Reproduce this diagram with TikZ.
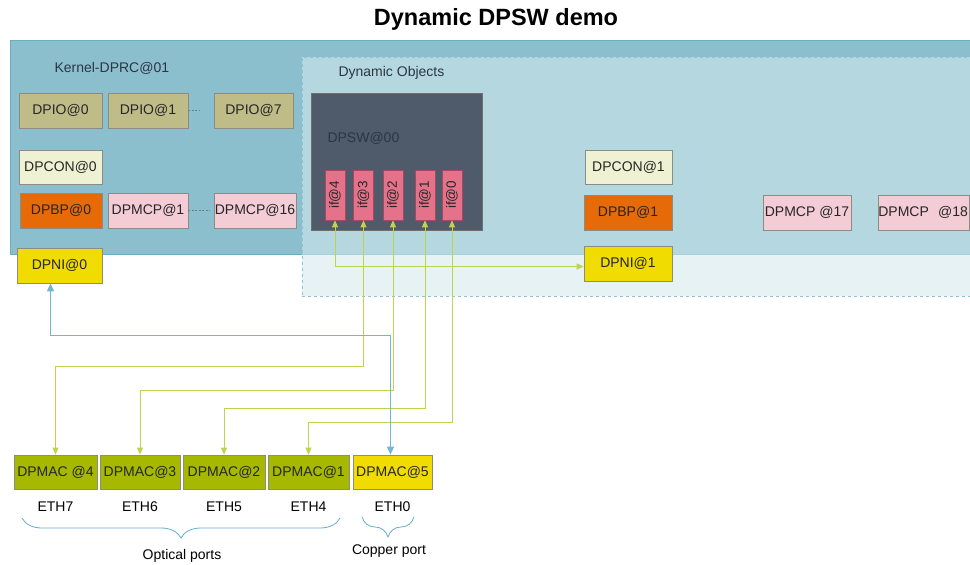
\documentclass[tikz,border=0pt]{standalone}
\usepackage{fontspec}
\setmainfont{Liberation Sans}
\usepackage{tikz}
\usetikzlibrary{arrows.meta,positioning,calc,decorations.pathreplacing}
\usepackage{xcolor}
\definecolor{KernelBlue}{HTML}{8BBFCE}
\definecolor{KernelEdge}{HTML}{6AAEC2}
\definecolor{DynTint}{RGB}{212,233,236}
\definecolor{DynEdge}{HTML}{8EC3D3}
\definecolor{IoOlive}{HTML}{C0BC88}
\definecolor{ConCream}{HTML}{EEF2D2}
\definecolor{BpOrange}{HTML}{E66A08}
\definecolor{McpPink}{HTML}{F3CCD6}
\definecolor{NiYellow}{HTML}{F0DC00}
\definecolor{SwSlate}{HTML}{4F5B6B}
\definecolor{SwText}{HTML}{2C3643}
\definecolor{PortPink}{HTML}{E5728B}
\definecolor{PortEdge}{HTML}{A8475E}
\definecolor{MacGreen}{HTML}{A6B800}
\definecolor{BoxEdge}{HTML}{8C8C84}
\definecolor{WireGreen}{HTML}{BFD34E}
\definecolor{WireBlue}{HTML}{72B7D0}
\definecolor{BraceBlue}{HTML}{62AECB}
\definecolor{DotGray}{HTML}{6F8088}
\definecolor{InkDark}{HTML}{262626}

\begin{document}
\begin{tikzpicture}[x=1pt,y=-1pt,
  txt/.style={font=\fontsize{14}{14}\selectfont,text=InkDark},
  obj/.style={txt,draw=BoxEdge,line width=0.7pt,minimum height=35pt,inner sep=0pt},
  port/.style={draw=PortEdge,fill=PortPink,line width=0.6pt,minimum width=50pt,minimum height=20pt,
    inner sep=0pt,rotate=90,font=\fontsize{13.5}{13.5}\selectfont,text=InkDark},
  wire/.style={WireGreen,line width=0.9pt,{Triangle[length=7pt,width=6pt]}-{Triangle[length=7pt,width=6pt]}},
  bluewire/.style={WireBlue,line width=1.4pt,{Triangle[length=8pt,width=7pt]}-{Triangle[length=8pt,width=7pt]}},
  portbrace/.style={BraceBlue,line width=0.8pt,decorate,decoration={brace,mirror,amplitude=20pt}},
  dots/.style={DotGray,line width=0.9pt,dash pattern=on 2pt off 1.5pt}]
  \clip (0,0) rectangle (970,565);

  \node[font=\fontsize{23.5}{23.5}\selectfont\bfseries] (title) at (496,19) {Dynamic DPSW demo};

  % containers
  \node[draw=KernelEdge,fill=KernelBlue,line width=0.8pt,anchor=north west,
    minimum width=975pt,minimum height=214pt,inner sep=0pt] (kernel) at (10,40) {};
  \node[txt,anchor=west,text=SwText] (klabel) at (51,68) {Kernel-DPRC@01};
  \node[draw=DynEdge,dashed,fill=DynTint,fill opacity=0.58,line width=0.8pt,anchor=north west,
    minimum width=690pt,minimum height=239pt,inner sep=0pt] (dyn) at (302,57) {};
  \node[txt,anchor=west,text=SwText] (dlabel) at (335,73) {Dynamic Objects};

  % kernel objects
  \node[obj,fill=IoOlive,minimum width=83pt] (io0) at (60.5,110.5) {DPIO@0};
  \node[obj,fill=IoOlive,minimum width=80pt] (io1) at (148,110.5) {DPIO@1};
  \node[obj,fill=IoOlive,minimum width=79pt] (io7) at (253.5,110.5) {DPIO@7};
  \node[obj,fill=ConCream,minimum width=83pt,minimum height=34pt] (con0) at (60.5,167) {DPCON@0};
  \node[obj,fill=BpOrange,minimum width=82pt] (bp0) at (61,210.5) {DPBP@0};
  \node[obj,fill=McpPink,minimum width=80pt] (mcp1) at (148,210.5) {DPMCP@1};
  \node[obj,fill=McpPink,minimum width=82pt] (mcp16) at (255,210.5) {DPMCP@16};
  \node[obj,fill=NiYellow,minimum width=85pt] (ni0) at (59.5,265.5) {DPNI@0};
  \draw[dots] (io1.east) -- ++(12,0);
  \draw[dots] (mcp1.east) -- ++(22,0);

  % dynamic objects
  \node[draw=BoxEdge!80!black,fill=SwSlate,line width=0.7pt,minimum width=171pt,minimum height=137pt,
    inner sep=0pt] (dpsw) at (396.5,161.5) {};
  \node[txt,anchor=west,text=SwText] (swlabel) at (324,138) {DPSW@00};
  \foreach \n/\x in {4/335,3/363.5,2/393,1/425,0/452}
    \node[port] (p\n) at (\x,195) {if@\n};
  \node[obj,fill=ConCream,minimum width=87pt,minimum height=34pt] (con1) at (628.5,167) {DPCON@1};
  \node[obj,fill=BpOrange,minimum width=88pt] (bp1) at (628,212.5) {DPBP@1};
  \node[obj,fill=McpPink,minimum width=88pt] (mcp17) at (807,212.5) {DPMCP @17};
  \node[obj,fill=McpPink,minimum width=91pt,anchor=west,align=left,text width=91pt] (mcp18) at (878,212.5) {DPMCP\ \ @18};
  \node[obj,fill=NiYellow,minimum width=88pt] (ni1) at (628,263.5) {DPNI@1};

  % MACs
  \node[obj,fill=MacGreen,minimum width=83pt,minimum height=34pt] (m4) at (55.5,472) {DPMAC @4};
  \node[obj,fill=MacGreen,minimum width=80pt,minimum height=34pt] (m3) at (140,472) {DPMAC@3};
  \node[obj,fill=MacGreen,minimum width=82pt,minimum height=34pt] (m2) at (224,472) {DPMAC@2};
  \node[obj,fill=MacGreen,minimum width=81pt,minimum height=34pt] (m1) at (308.5,472) {DPMAC@1};
  \node[obj,fill=NiYellow,minimum width=79pt,minimum height=34pt] (m5) at (392.5,472) {DPMAC@5};
  \foreach \m/\e in {m4/7,m3/6,m2/5,m1/4,m5/0}
    \node[txt,text=black,below=9pt of \m] (eth\e) {ETH\e};

  % links
  \draw[wire] (p4.west) |- ([yshift=-3pt]ni1.west);
  \foreach \p/\m/\d in {p3/m4/146,p2/m3/170,p1/m2/188,p0/m1/202}
    \draw[wire] (\p.west) -- ++(0,\d) -| (\m.north);
  \draw[bluewire] ([xshift=-9pt]ni0.south) -- ++(0,52) -| ([xshift=-2pt]m5.north);

  % port groups
  \coordinate (optL) at (22,518);
  \coordinate (optR) at (340,518);
  \coordinate (copL) at (362,517);
  \coordinate (copR) at (414,517);
  \draw[portbrace] (optL) -- (optR);
  \draw[portbrace] (copL) -- (copR);
  \node[txt,text=black] (optical) at (182,556) {Optical ports};
  \node[txt,text=black] (copper) at (389,551) {Copper port};
\end{tikzpicture}
\end{document}
